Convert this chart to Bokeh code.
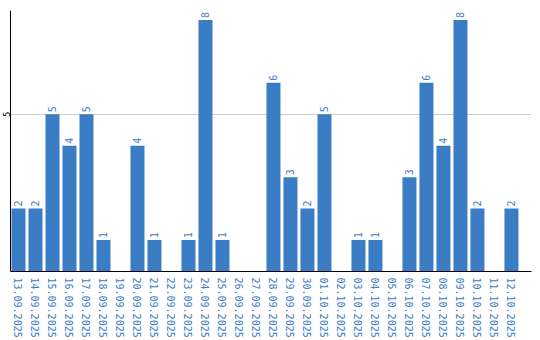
import math
from bokeh.plotting import figure
from bokeh.models import ColumnDataSource, FixedTicker, Range1d
from bokeh.core.properties import value
from bokeh.embed import file_html
from bokeh.resources import INLINE

dates = ["13.09.2025", "14.09.2025", "15.09.2025", "16.09.2025", "17.09.2025",
         "18.09.2025", "19.09.2025", "20.09.2025", "21.09.2025", "22.09.2025",
         "23.09.2025", "24.09.2025", "25.09.2025", "26.09.2025", "27.09.2025",
         "28.09.2025", "29.09.2025", "30.09.2025", "01.10.2025", "02.10.2025",
         "03.10.2025", "04.10.2025", "05.10.2025", "06.10.2025", "07.10.2025",
         "08.10.2025", "09.10.2025", "10.10.2025", "11.10.2025", "12.10.2025"]
counts = [2, 2, 5, 4, 5, 1, 0, 4, 1, 0,
          1, 8, 1, 0, 0, 6, 3, 2, 5, 0,
          1, 1, 0, 3, 6, 4, 8, 2, 0, 2]
y_ticks = [5]

BLUE = "#3b7dc4"
FONT = "DejaVu Sans Mono"

xs = list(range(len(dates)))
src = ColumnDataSource(dict(x=xs, top=counts))
lx = [i for i, c in zip(xs, counts) if c > 0]
ly = [c for c in counts if c > 0]
lt = [str(c) for c in counts if c > 0]
lsrc = ColumnDataSource(dict(x=lx, y=ly, t=lt))

p = figure(width=540, height=340, output_backend="svg", toolbar_location=None,
           x_range=Range1d(-0.47, 30.18), y_range=Range1d(0, 8.3),
           min_border_left=0, min_border_right=9, min_border_top=10,
           min_border_bottom=0)
p.outline_line_color = None
p.background_fill_color = "white"
p.border_fill_color = "white"

p.vbar(x="x", top="top", width=14/17, bottom=0, source=src,
       fill_color=BLUE, line_color=None)

p.text(x="x", y="y", text="t", source=lsrc, angle=math.pi/2,
       text_align="left", text_baseline="middle", y_offset=-2,
       text_font=value(FONT), text_font_size="10px", text_color=BLUE)

p.xaxis.ticker = FixedTicker(ticks=xs)
p.xaxis.major_label_overrides = {i: d for i, d in enumerate(dates)}
p.xaxis.major_label_orientation = "vertical"
p.xaxis.major_label_text_font = FONT
p.xaxis.major_label_text_font_size = "10px"
p.xaxis.major_label_text_color = BLUE
p.xaxis.major_tick_line_color = None
p.xaxis.minor_tick_line_color = None
p.xaxis.major_tick_out = 0
p.xaxis.major_label_standoff = 6
p.xaxis.axis_line_color = "black"

p.yaxis.ticker = FixedTicker(ticks=y_ticks)
p.yaxis.major_label_orientation = "vertical"
p.yaxis.major_label_text_font = FONT
p.yaxis.major_label_text_font_size = "9px"
p.yaxis.major_label_text_color = "black"
p.yaxis.major_tick_line_color = None
p.yaxis.minor_tick_line_color = None
p.yaxis.major_tick_out = 0
p.yaxis.major_label_standoff = 0
p.yaxis.axis_line_color = "black"

p.xgrid.grid_line_color = None
p.ygrid.ticker = FixedTicker(ticks=y_ticks)
p.ygrid.grid_line_color = "#cccccc"

open("out.html", "w").write(file_html(p, INLINE))
